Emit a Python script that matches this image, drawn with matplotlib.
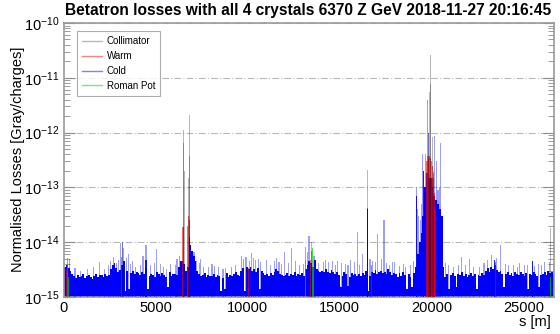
import numpy as np
import matplotlib.pyplot as plt
from matplotlib.lines import Line2D

plt.rcParams['font.family'] = ['Liberation Sans', 'DejaVu Sans']
plt.rcParams['mathtext.fontset'] = 'custom'
plt.rcParams['mathtext.rm'] = 'Liberation Sans'
plt.rcParams['mathtext.it'] = 'Liberation Sans:italic'
plt.rcParams['mathtext.bf'] = 'Liberation Sans:bold'

unit = 1e-15
ring_length = 26659
bin_width = 100

# cold (arc) loss level, one value per 100 m bin, in units of 1e-15
cold_floor = [
    3.6, 3.9, 3.4, 3.0, 2.6, 2.4, 2.2, 2.5, 2.3, 2.4, 2.6, 2.2, 2.4, 2.5, 2.3, 2.1, 2.4, 2.6, 2.3, 2.5,
    2.5, 2.3, 2.6, 2.4, 2.5, 3.2, 3.8, 4.2, 3.4, 2.8, 3.1, 3.9, 4.6, 1.3, 3.0, 1.4, 2.7, 3.0, 2.6, 2.8,
    2.7, 2.5, 2.8, 2.6, 3.4, 1.4, 2.4, 2.6, 2.5, 2.3, 2.8, 2.6, 2.4, 2.7, 2.5, 2.3, 1.5, 2.8, 2.4, 2.6,
    2.6, 2.5, 3.5, 4.5, 4.5, 4.0, 3.0, 3.5, 9.0, 7.0, 5.5, 4.5, 3.0, 2.6, 2.4, 2.5, 2.7, 2.3, 2.5, 2.4,
    2.4, 2.6, 2.3, 2.5, 2.4, 1.3, 2.2, 1.4, 2.7, 2.3, 2.5, 2.4, 2.6, 2.8, 2.5, 2.4, 3.0, 3.4, 1.3, 3.6,
    3.2, 3.5, 3.0, 3.3, 2.9, 3.4, 1.4, 3.0, 2.7, 2.5, 2.6, 2.4, 2.7, 2.5, 2.8, 3.3, 3.0, 2.6, 2.5, 2.4,
    2.5, 2.7, 2.4, 2.6, 2.5, 2.8, 2.4, 2.6, 2.5, 2.7, 2.4, 3.2, 3.8, 4.5, 4.2, 3.6, 4.8, 3.2, 3.0, 2.9,
    3.0, 2.8, 3.2, 2.9, 2.7, 3.1, 2.8, 2.6, 2.9, 2.5, 1.5, 2.4, 2.8, 2.6, 1.6, 2.3, 2.7, 2.5, 2.6, 2.4,
    2.6, 2.4, 2.7, 2.5, 3.0, 1.3, 2.4, 2.9, 2.7, 3.1, 2.6, 2.8, 3.0, 2.7, 2.9, 2.6, 3.2, 2.8, 2.5, 2.7,
    2.6, 2.3, 2.7, 2.4, 2.8, 2.5, 1.4, 2.6, 2.3, 1.5, 2.7, 3.5, 6.0, 10.0, 15.0, 30.0, 100.0, 180.0, 150.0, 150.0,
    100.0, 70.0, 60.0, 50.0, 40.0, 30.0, 3.5, 2.3, 2.6, 1.4, 2.5, 2.7, 2.4, 1.5, 2.6, 2.5, 2.8, 2.4, 2.6, 2.3,
    2.5, 2.7, 2.4, 2.6, 1.4, 2.5, 2.4, 2.7, 2.5, 3.0, 3.4, 2.9, 3.6, 3.2, 3.8, 3.1, 2.8, 3.0, 2.6, 1.5,
    2.6, 2.8, 2.5, 2.7, 2.4, 2.9, 2.6, 2.5, 2.8, 2.6, 2.4, 2.7, 1.4, 2.6, 2.5, 2.8, 2.6, 2.4, 1.5, 2.5,
    2.6, 2.9, 2.5, 3.0, 2.7, 2.8, 2.6,
]

# single cold monitors sticking out of the floor (light blue)
cold_s = [300, 1300, 1950, 2550, 2700, 2850, 3070, 3180, 3250, 3400, 3600, 3900,
          4460, 4700, 5040, 5400, 5800, 6150, 6300, 6900, 7070, 7200, 7600, 8200,
          8800, 9650, 9900, 10200, 10400, 10600, 11000, 11550, 11700, 12000, 12390,
          12800, 13150, 13330, 13450, 14100, 14400, 14900, 15300, 15600, 15960,
          16250, 16800, 17080, 17410, 17700, 18000, 18600, 19170, 19300, 19450,
          19520, 19650, 19770, 19850, 20150, 20250, 20350, 20500, 20600, 21610,
          22070, 22600, 23250, 23750, 24200, 24800, 25200, 25800, 26140, 26400,
          600, 900, 1600, 2200, 2400, 2950, 3500, 3750, 4150, 4300, 4900, 5250,
          5600, 6050, 7350, 7450, 7850, 8050, 8400, 8650, 9100, 9350, 9750, 10100,
          10300, 10700, 11250, 11450, 11850, 12200, 12600, 13050, 13250, 13600,
          13700, 13850, 14250, 14600, 14750, 15100, 15450, 15800, 16100, 16650,
          16950, 17250, 17550, 17850, 18250, 18450, 18850, 19000, 19250, 19380,
          20080, 20420, 20750, 20900, 21200, 21450, 21850, 22300, 22850, 23050,
          23550, 24000, 24450, 24650, 25050, 25600, 26000]
cold_loss = [5.0, 3.2, 4.3, 4.6, 5.3, 4.1, 9.5, 10.0, 8.0, 5.2, 4.0, 3.6,
             8.9, 3.8, 7.5, 3.6, 4.0, 5.0, 5.5, 9.0, 6.6, 4.5, 3.5, 3.7,
             3.4, 5.6, 5.4, 6.3, 4.8, 5.0, 4.7, 5.2, 4.4, 6.6, 7.8,
             3.8, 8.3, 13.0, 7.0, 4.3, 4.3, 4.6, 4.0, 4.7, 15.5,
             6.0, 4.5, 14.0, 25.6, 3.8, 4.3, 3.6, 100.0, 30.0, 50.0,
             410.0, 400.0, 3900.0, 1000.0, 880.0, 300.0, 90.0, 650.0, 15.0, 5.4,
             5.0, 3.6, 5.8, 8.9, 3.8, 4.2, 3.9, 4.0, 4.4, 4.4,
             3.4, 3.0, 3.5, 3.3, 3.9, 4.8, 6.0, 4.5, 3.8, 5.5, 4.2, 4.0,
             3.3, 3.9, 4.2, 5.0, 3.6, 4.0, 3.5, 3.2, 3.6, 3.8, 5.0, 4.6,
             5.2, 4.4, 3.9, 4.6, 4.0, 4.1, 4.5, 4.0, 6.5, 5.5,
             4.8, 4.2, 4.8, 4.5, 3.9, 4.2, 3.9, 4.4, 3.9, 5.0,
             4.4, 5.0, 4.2, 4.3, 3.7, 4.0, 3.9, 4.5, 40.0, 25.0,
             180.0, 100.0, 4.2, 3.9, 3.6, 3.8, 3.9, 3.6, 4.1, 4.8,
             5.2, 4.0, 3.8, 3.6, 3.9, 3.7, 3.9]

# stronger cold monitors (solid blue)
cold_hi_s = [4460, 6850, 16490, 19170, 19550, 23420, 25470]
cold_hi_loss = [4.7, 12.5, 40.0, 70.0, 200.0, 4.7, 4.5]

warm_s = [140, 3130, 6460, 6490, 6700, 6780, 6810, 10050, 13420, 16720,
          19750, 19800, 19850, 19900, 19950, 20000, 20030, 20080, 20130, 20180, 23480]
warm_loss = [3.1, 5.4, 19.0, 19.0, 20.0, 30.0, 25.0, 3.4, 4.7, 3.8,
             300.0, 370.0, 330.0, 370.0, 350.0, 300.0, 250.0, 150.0, 80.0, 40.0, 4.4]

coll_s = [3190, 6480, 6480, 6560, 6750, 6810, 6810, 13480, 16490, 16490,
          19850, 19900, 19920, 19920, 20050, 20100, 26480]
coll_loss = [10.0, 1100.0, 650.0, 200.0, 150.0, 2100.0, 370.0, 10.0, 210.0, 42.0,
             1000.0, 5600.0, 26000.0, 7700.0, 830.0, 200.0, 18.0]

rp_s = [180, 230, 13120, 13500, 13550, 26450]
rp_loss = [5.1, 2.3, 4.7, 7.8, 3.6, 2.3]

fig = plt.figure(figsize=(5.6, 3.34), dpi=100)
ax = fig.add_axes([64 / 560, 37 / 334, 490 / 560, 274 / 334])
ax.set_yscale('log')

base = 1e-17
floor_s = np.arange(len(cold_floor)) * bin_width + bin_width / 2
floor_v = np.array(cold_floor) * unit
ax.bar(floor_s, floor_v - base, bottom=base, width=bin_width, color='#0000ff',
       linewidth=0, zorder=2)

def spikes(s, loss, color, alpha, z, w=60):
    v = np.array(loss) * unit
    ax.bar(s, v - base, bottom=base, width=w, color=color, alpha=alpha,
           linewidth=0, zorder=z)

spikes(cold_s, cold_loss, '#0000ff', 0.38, 3)
spikes(cold_hi_s, cold_hi_loss, '#0000ff', 0.9, 3)
spikes(warm_s, warm_loss, '#ff0000', 0.6, 4, w=70)
spikes(coll_s, coll_loss, '#000000', 0.28, 5)
spikes(rp_s, rp_loss, '#00cc00', 0.7, 6)

ax.set_xlim(0, ring_length)
ax.set_ylim(1e-15, 1e-10)

ax.set_yticks([1e-15, 1e-14, 1e-13, 1e-12, 1e-11, 1e-10])
ax.set_yticklabels([r'$\mathregular{10^{-%d}}$' % k for k in [15, 14, 13, 12, 11, 10]])
ax.set_xticks([0, 5000, 10000, 15000, 20000, 25000])
ax.set_xticklabels(['0', '5000', '10000', '15000', '20000', '25000'])
ax.tick_params(axis='both', which='major', labelsize=10.5, direction='in',
               length=8, color='0.55')
ax.tick_params(axis='y', which='both', right=True, direction='in')
ax.tick_params(axis='y', which='minor', length=4, color='0.55')
ax.tick_params(axis='x', pad=3)

ax.yaxis.grid(True, which='major', linestyle=(0, (6, 2, 1, 2)), color='0.72',
              linewidth=0.8)
ax.set_axisbelow(True)
for sp in ax.spines.values():
    sp.set_color('0.6')
    sp.set_linewidth(1.2)

fig.text(308 / 560, 1 - 10 / 334, 'Betatron losses with all 4 crystals 6370 Z GeV 2018-11-27 20:16:45',
         ha='center', va='center', fontsize=11.2, fontweight='bold')
fig.text(18 / 560, 1 - 159 / 334, 'Normalised Losses [Gray/charges]', rotation=90,
         ha='center', va='center', fontsize=10.5)
fig.text(551 / 560, 1 - 322 / 334, 's [m]', ha='right', va='center', fontsize=10.5)

handles = [Line2D([], [], color='0.72', lw=1),
           Line2D([], [], color='#ff8080', lw=1),
           Line2D([], [], color='#8080ff', lw=1),
           Line2D([], [], color='#80e080', lw=1)]
leg = ax.legend(handles, ['Collimator', 'Warm', 'Cold', 'Roman Pot'],
                loc='upper left', bbox_to_anchor=(0.0265, 0.971), borderaxespad=0,
                fontsize=7, frameon=True, fancybox=False, handlelength=2.0,
                handletextpad=0.5, labelspacing=0.5, borderpad=0.55)
leg.get_frame().set_edgecolor('0.6')
leg.get_frame().set_linewidth(0.8)
leg.set_zorder(10)

fig.savefig('out.png', dpi=100)
